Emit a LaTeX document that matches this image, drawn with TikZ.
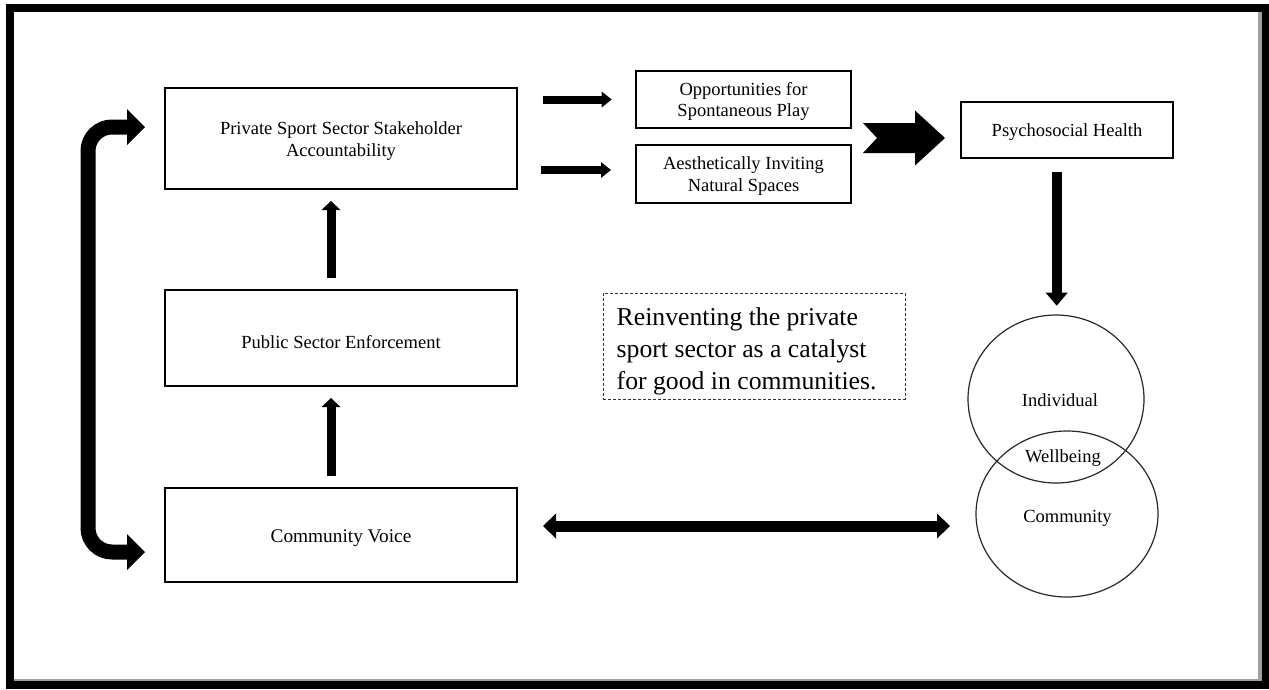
\documentclass[tikz,border=0pt]{standalone}
\usepackage{fontspec}
\setmainfont{Liberation Serif}
\usetikzlibrary{arrows.meta,calc,shapes.geometric}
\definecolor{shadowgray}{RGB}{160,160,160}
\definecolor{circgray}{RGB}{40,40,40}
\begin{document}
\begin{tikzpicture}[x=1pt,y=-1pt,
  every node/.style={outer sep=0pt,inner sep=0pt},
  boxtext/.style={font=\fontsize{18.5}{21.8}\selectfont,align=center},
  box/.style={draw=black,line width=1.5pt},
  smallarrow/.style={line width=8pt,-{Triangle[length=10pt,width=16pt,line width=0pt]}},
  uparrow/.style={line width=9pt,-{Triangle[length=9pt,width=19pt,line width=0pt]}},
  downarrow/.style={line width=10pt,-{Triangle[length=13pt,width=22pt,line width=0pt]}},
  dblarrow/.style={line width=11pt,{Triangle[length=13pt,width=25pt,line width=0pt]}-{Triangle[length=13pt,width=25pt,line width=0pt]}},
  bendarrow/.style={line width=15pt,rounded corners=24pt,{Triangle[length=18pt,width=36pt,line width=0pt]}-{Triangle[length=18pt,width=36pt,line width=0pt]}},
  circ/.style={draw=circgray,line width=1.2pt,ellipse},
  dashbox/.style={draw=black!80,line width=0.8pt,dash pattern=on 3pt off 2pt}
]
\useasboundingbox (0,0) rectangle (1269,689);
% frame
\fill[white] (0,0) rectangle (1269,689);
\fill[black] (6,4) rectangle (1269,689);
\fill[shadowgray] (14,12) rectangle (1262,681);
\fill[white] (14,12) rectangle (1258,679);

% boxes
\node[box,minimum width=352pt,minimum height=101pt] (priv) at (341,138.5) {};
\node[box,minimum width=352pt,minimum height=96pt] (pub) at (341,338) {};
\node[box,minimum width=352pt,minimum height=94pt] (comm) at (341,535) {};
\node[box,minimum width=215pt,minimum height=57pt] (opp) at (743.5,99.5) {};
\node[box,minimum width=215pt,minimum height=58pt] (aes) at (743.5,174) {};
\node[box,minimum width=212pt,minimum height=56pt] (psych) at (1067,130) {};

\node[boxtext] (privtext) at ($(priv)+(0,2.7)$) {Private Sport Sector Stakeholder\\Accountability};
\node[boxtext] (pubtext) at ($(pub)+(0,4)$) {Public Sector Enforcement};
\node[boxtext,font=\fontsize{19.3}{22}\selectfont] (commtext) at ($(comm)+(0,3.3)$) {Community Voice};
\node[boxtext,font=\fontsize{18.5}{21.3}\selectfont] (opptext) at ($(opp)+(0,2)$) {Opportunities for\\Spontaneous Play};
\node[boxtext,font=\fontsize{18.5}{21.3}\selectfont] (aestext) at ($(aes)+(0,2)$) {Aesthetically Inviting\\Natural Spaces};
\node[boxtext] (psychtext) at ($(psych)+(0,2)$) {Psychosocial Health};

% dashed text box
\node[dashbox,minimum width=302pt,minimum height=106pt] (dbox) at (754,346) {};
\node[anchor=north west,align=left,font=\fontsize{25.7}{32}\selectfont] (dtext) at ($(dbox.north west)+(13.7,14.4)$) {Reinventing the private\\sport sector as a catalyst\\for good in communities.};

% circles
\node[circ,minimum width=176pt,minimum height=168pt] (topc) at (1056,399) {};
\node[circ,minimum width=182pt,minimum height=166pt] (botc) at (1067,514) {};
\node[boxtext] (indiv) at (1060,400) {Individual};
\node[boxtext] (well) at (1063,458) {Wellbeing};
\node[boxtext] (ccomm) at (1067.5,518) {Community};

% arrows
\draw[smallarrow] ($(priv.east |- opp.west)+(25.7,0)$) -- ($(opp.west)+(-24.3,0)$);
\draw[smallarrow] ($(priv.east |- aes.west)+(24,-4)$) -- ($(aes.west)+(-25,-4)$);
\draw[uparrow] ($(pub.north)+(-10,-12)$) -- ($(priv.south)+(-10,12)$);
\draw[uparrow] ($(comm.north)+(-10,-12)$) -- ($(pub.south)+(-10,12)$);
\draw[downarrow] ($(psych.south)+(-10.3,14)$) -- ($(topc.north)+(0.7,-9.3)$);
\draw[dblarrow] ($(comm.east)+(26,-9)$) -- ($(botc.west)+(-26,12)$);
\draw[bendarrow] ($(comm.west)+(-20,17)$) -- ++(-57,0) |- ($(priv.west)+(-20,-11.5)$);

% big notched arrow
\coordinate (bigtip) at ($(psych.west)+(-16,8)$);
\fill[black,shift={(bigtip)}] (-82,-15) -- (-30,-15) -- (-30,-27.5) -- (0,0) -- (-30,27.5) -- (-30,15) -- (-82,15) -- (-68,0) -- cycle;
\end{tikzpicture}
\end{document}
